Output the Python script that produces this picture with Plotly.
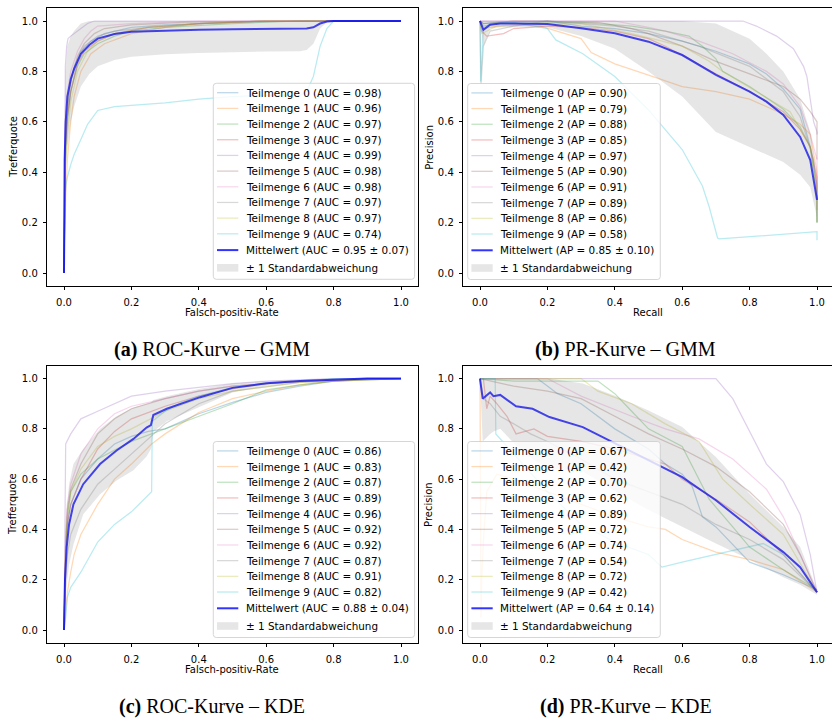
import plotly.graph_objects as go

# ---------------- data ----------------
roc_gmm_auc = [0.98, 0.96, 0.97, 0.97, 0.99, 0.98, 0.98, 0.97, 0.97, 0.74]
roc_gmm_x = [
    [0, 0.003, 0.008, 0.015, 0.03, 0.05, 0.08, 0.12, 0.2, 0.3, 0.5, 0.7, 1.0],
    [0, 0.005, 0.01, 0.02, 0.03, 0.05, 0.08, 0.12, 0.2, 0.3, 0.4, 0.6, 1.0],
    [0, 0.004, 0.01, 0.02, 0.04, 0.06, 0.1, 0.15, 0.2, 0.3, 0.5, 0.7, 1.0],
    [0, 0.004, 0.01, 0.02, 0.04, 0.06, 0.1, 0.15, 0.25, 0.4, 0.6, 1.0],
    [0, 0.002, 0.004, 0.008, 0.012, 0.02, 0.03, 0.05, 0.07, 0.09, 0.2, 1.0],
    [0, 0.004, 0.01, 0.02, 0.04, 0.06, 0.09, 0.12, 0.2, 0.35, 0.6, 1.0],
    [0, 0.003, 0.008, 0.02, 0.04, 0.06, 0.08, 0.1, 0.2, 0.4, 1.0],
    [0, 0.004, 0.01, 0.02, 0.04, 0.06, 0.1, 0.15, 0.25, 0.4, 0.6, 1.0],
    [0, 0.004, 0.01, 0.02, 0.04, 0.07, 0.1, 0.15, 0.25, 0.4, 0.6, 1.0],
    [0, 0.003, 0.006, 0.01, 0.02, 0.03, 0.05, 0.07, 0.1, 0.15, 0.2, 0.3, 0.4, 0.5, 0.6, 0.7, 0.72, 0.74, 0.76, 0.78, 0.8, 1.0],
]
roc_gmm_y = [
    [0, 0.45, 0.62, 0.72, 0.82, 0.88, 0.92, 0.95, 0.975, 0.985, 0.995, 1.0, 1.0],
    [0, 0.3, 0.45, 0.6, 0.7, 0.8, 0.87, 0.91, 0.95, 0.975, 0.99, 1.0, 1.0],
    [0, 0.45, 0.6, 0.72, 0.82, 0.87, 0.91, 0.94, 0.96, 0.975, 0.99, 1.0, 1.0],
    [0, 0.5, 0.62, 0.72, 0.83, 0.88, 0.92, 0.95, 0.975, 0.99, 1.0, 1.0],
    [0, 0.6, 0.82, 0.9, 0.93, 0.94, 0.95, 0.97, 0.99, 1.0, 1.0, 1.0],
    [0, 0.5, 0.65, 0.76, 0.86, 0.91, 0.95, 0.97, 0.985, 0.995, 1.0, 1.0],
    [0, 0.55, 0.7, 0.8, 0.88, 0.93, 0.96, 0.98, 0.99, 1.0, 1.0],
    [0, 0.5, 0.62, 0.72, 0.84, 0.9, 0.94, 0.96, 0.975, 0.99, 1.0, 1.0],
    [0, 0.4, 0.55, 0.68, 0.8, 0.88, 0.92, 0.95, 0.975, 0.99, 1.0, 1.0],
    [0, 0.3, 0.35, 0.38, 0.43, 0.47, 0.53, 0.59, 0.645, 0.66, 0.665, 0.675, 0.69, 0.7, 0.705, 0.705, 0.72, 0.78, 0.9, 0.97, 1.0, 1.0],
]
roc_gmm_mean_x = [0, 0.002, 0.005, 0.01, 0.02, 0.03, 0.05, 0.075, 0.1, 0.15, 0.2, 0.3, 0.4, 0.5, 0.6, 0.7, 0.72, 0.74, 0.76, 0.78, 0.8, 0.9, 1.0]
roc_gmm_mean = [0, 0.45, 0.6, 0.7, 0.77, 0.81, 0.87, 0.905, 0.93, 0.948, 0.957, 0.962, 0.965, 0.967, 0.968, 0.969, 0.97, 0.975, 0.99, 0.998, 1, 1, 1]
roc_gmm_upper = [0, 0.6, 0.8, 0.9, 0.94, 0.96, 0.99, 1, 1, 1, 1, 1, 1, 1, 1, 1, 1, 1, 1, 1, 1, 1, 1]
roc_gmm_lower = [0, 0.3, 0.4, 0.5, 0.6, 0.66, 0.74, 0.79, 0.82, 0.845, 0.858, 0.868, 0.873, 0.877, 0.879, 0.88, 0.885, 0.91, 0.97, 0.995, 1, 1, 1]

pr_gmm_ap = [0.90, 0.79, 0.88, 0.85, 0.97, 0.90, 0.91, 0.89, 0.86, 0.58]
pr_gmm_x = [
    [0, 0.01, 0.05, 0.2, 0.3, 0.4, 0.5, 0.6, 0.7, 0.8, 0.85, 0.9, 0.95, 0.98, 1.0, 1.0],
    [0, 0.01, 0.05, 0.1, 0.18, 0.25, 0.3, 0.33, 0.4, 0.5, 0.6, 0.7, 0.8, 0.9, 0.95, 0.98, 1.0, 1.0],
    [0, 0.01, 0.05, 0.3, 0.45, 0.55, 0.62, 0.66, 0.7, 0.72, 0.8, 0.9, 0.95, 0.98, 1.0, 1.0],
    [0, 0.005, 0.02, 0.07, 0.1, 0.2, 0.3, 0.4, 0.5, 0.55, 0.62, 0.7, 0.8, 0.9, 0.95, 0.98, 1.0, 1.0],
    [0, 0.5, 0.78, 0.82, 0.88, 0.93, 0.96, 0.97, 0.98, 0.99, 1.0, 1.0],
    [0, 0.01, 0.1, 0.35, 0.45, 0.5, 0.6, 0.7, 0.8, 0.9, 0.95, 0.98, 1.0, 1.0],
    [0, 0.4, 0.5, 0.55, 0.65, 0.75, 0.85, 0.9, 0.95, 0.98, 1.0, 1.0],
    [0, 0.003, 0.01, 0.03, 0.1, 0.2, 0.4, 0.5, 0.65, 0.8, 0.9, 0.95, 0.99, 1.0, 1.0],
    [0, 0.005, 0.05, 0.3, 0.45, 0.6, 0.68, 0.72, 0.82, 0.92, 0.98, 1.0, 1.0],
    [0, 0.002, 0.01, 0.03, 0.1, 0.2, 0.225, 0.305, 0.4, 0.5, 0.6, 0.66, 0.68, 0.705, 0.71, 0.85, 1.0, 1.0],
]
pr_gmm_y = [
    [1, 0.99, 0.995, 1.0, 0.98, 0.97, 0.95, 0.92, 0.88, 0.83, 0.79, 0.73, 0.65, 0.5, 0.35, 0.2],
    [1, 0.97, 0.98, 0.985, 0.98, 0.95, 0.93, 0.875, 0.83, 0.785, 0.74, 0.72, 0.69, 0.63, 0.59, 0.55, 0.4, 0.25],
    [1, 0.98, 0.99, 0.995, 0.98, 0.96, 0.94, 0.9, 0.85, 0.8, 0.74, 0.65, 0.58, 0.5, 0.3, 0.2],
    [1, 0.96, 0.94, 0.95, 0.97, 0.98, 0.975, 0.96, 0.93, 0.9, 0.85, 0.79, 0.72, 0.64, 0.57, 0.5, 0.38, 0.3],
    [1, 1, 1, 0.98, 0.94, 0.89, 0.82, 0.78, 0.69, 0.6, 0.56, 0.55],
    [1, 0.99, 1.0, 0.995, 0.97, 0.95, 0.9, 0.84, 0.79, 0.74, 0.69, 0.64, 0.6, 0.45],
    [1, 1, 0.975, 0.96, 0.92, 0.87, 0.8, 0.75, 0.66, 0.55, 0.45, 0.3],
    [1, 0.75, 0.9, 0.96, 0.98, 1.0, 0.98, 0.96, 0.9, 0.82, 0.72, 0.62, 0.45, 0.3, 0.2],
    [1, 0.95, 0.98, 0.99, 0.95, 0.9, 0.84, 0.8, 0.72, 0.64, 0.5, 0.3, 0.2],
    [1, 0.76, 0.97, 0.99, 0.995, 0.97, 0.925, 0.87, 0.78, 0.647, 0.49, 0.345, 0.263, 0.139, 0.135, 0.15, 0.164, 0.13],
]
pr_gmm_mean_x = [0, 0.01, 0.03, 0.06, 0.1, 0.2, 0.3, 0.4, 0.5, 0.6, 0.7, 0.8, 0.85, 0.9, 0.95, 0.98, 1.0]
pr_gmm_mean = [1, 0.965, 0.985, 0.99, 0.99, 0.988, 0.971, 0.951, 0.918, 0.865, 0.786, 0.72, 0.68, 0.627, 0.54, 0.448, 0.29]
pr_gmm_upper = [1, 1, 1, 1, 1, 1, 1, 1, 1, 1, 0.99, 0.93, 0.87, 0.8, 0.69, 0.56, 0.36]
pr_gmm_lower = [1, 0.9, 0.97, 0.975, 0.975, 0.975, 0.94, 0.89, 0.8, 0.7, 0.56, 0.5, 0.47, 0.44, 0.39, 0.34, 0.22]

roc_kde_auc = [0.86, 0.83, 0.87, 0.89, 0.96, 0.92, 0.92, 0.87, 0.91, 0.82]
roc_kde_x = [
    [0, 0.005, 0.01, 0.02, 0.05, 0.1, 0.15, 0.2, 0.25, 0.3, 0.4, 0.5, 0.6, 0.7, 0.8, 0.9, 1.0],
    [0, 0.005, 0.01, 0.02, 0.03, 0.05, 0.1, 0.15, 0.2, 0.26, 0.3, 0.4, 0.5, 0.6, 0.7, 0.8, 0.9, 1.0],
    [0, 0.005, 0.01, 0.02, 0.05, 0.1, 0.2, 0.3, 0.4, 0.5, 0.6, 0.7, 0.8, 1.0],
    [0, 0.005, 0.01, 0.02, 0.05, 0.1, 0.15, 0.2, 0.3, 0.4, 0.5, 0.6, 0.8, 1.0],
    [0, 0.003, 0.005, 0.02, 0.05, 0.1, 0.15, 0.2, 0.3, 0.4, 0.5, 0.6, 0.8, 1.0],
    [0, 0.005, 0.01, 0.02, 0.05, 0.1, 0.15, 0.2, 0.3, 0.4, 0.5, 0.7, 1.0],
    [0, 0.005, 0.01, 0.02, 0.05, 0.1, 0.15, 0.2, 0.3, 0.4, 0.5, 0.7, 1.0],
    [0, 0.005, 0.01, 0.02, 0.05, 0.1, 0.15, 0.2, 0.25, 0.3, 0.4, 0.5, 0.7, 1.0],
    [0, 0.005, 0.01, 0.02, 0.05, 0.1, 0.15, 0.2, 0.3, 0.4, 0.5, 0.7, 1.0],
    [0, 0.005, 0.01, 0.02, 0.05, 0.1, 0.15, 0.2, 0.26, 0.262, 0.3, 0.34, 0.4, 0.5, 0.6, 0.7, 0.8, 1.0],
]
roc_kde_y = [
    [0, 0.3, 0.42, 0.5, 0.6, 0.68, 0.74, 0.77, 0.79, 0.8, 0.86, 0.905, 0.945, 0.97, 0.99, 0.998, 1.0],
    [0, 0.08, 0.15, 0.23, 0.3, 0.38, 0.5, 0.6, 0.66, 0.74, 0.78, 0.865, 0.92, 0.95, 0.975, 0.99, 1.0, 1.0],
    [0, 0.3, 0.45, 0.55, 0.62, 0.68, 0.75, 0.8, 0.85, 0.9, 0.955, 0.975, 0.99, 1.0],
    [0, 0.3, 0.42, 0.5, 0.6, 0.72, 0.79, 0.84, 0.89, 0.93, 0.96, 0.98, 0.995, 1.0],
    [0, 0.5, 0.74, 0.78, 0.84, 0.87, 0.9, 0.93, 0.95, 0.965, 0.98, 0.99, 1.0, 1.0],
    [0, 0.35, 0.48, 0.56, 0.66, 0.78, 0.84, 0.88, 0.92, 0.95, 0.97, 0.99, 1.0],
    [0, 0.4, 0.5, 0.58, 0.7, 0.8, 0.86, 0.89, 0.92, 0.95, 0.97, 0.99, 1.0],
    [0, 0.2, 0.3, 0.38, 0.48, 0.58, 0.64, 0.7, 0.76, 0.82, 0.9, 0.95, 0.985, 1.0],
    [0, 0.35, 0.45, 0.55, 0.64, 0.73, 0.77, 0.8, 0.87, 0.92, 0.95, 0.985, 1.0],
    [0, 0.05, 0.13, 0.17, 0.23, 0.35, 0.42, 0.47, 0.55, 0.83, 0.87, 0.9, 0.93, 0.965, 0.98, 0.99, 1.0, 1.0],
]
roc_kde_mean_x = [0, 0.003, 0.008, 0.015, 0.028, 0.057, 0.107, 0.156, 0.206, 0.245, 0.258, 0.265, 0.305, 0.404, 0.5, 0.6, 0.7, 0.8, 0.9, 1.0]
roc_kde_mean = [0, 0.2, 0.33, 0.42, 0.5, 0.58, 0.66, 0.714, 0.76, 0.805, 0.815, 0.855, 0.88, 0.926, 0.963, 0.981, 0.99, 0.996, 1, 1]
roc_kde_upper = [0, 0.3, 0.48, 0.58, 0.66, 0.72, 0.8, 0.85, 0.885, 0.9, 0.905, 0.915, 0.93, 0.96, 0.98, 0.99, 0.995, 1, 1, 1]
roc_kde_lower = [0, 0.1, 0.18, 0.26, 0.34, 0.46, 0.54, 0.595, 0.635, 0.69, 0.72, 0.79, 0.83, 0.89, 0.945, 0.97, 0.985, 0.993, 1, 1]

pr_kde_ap = [0.67, 0.42, 0.70, 0.62, 0.89, 0.72, 0.74, 0.54, 0.72, 0.42]
pr_kde_x = [
    [0, 0.17, 0.2, 0.23, 0.3, 0.4, 0.5, 0.55, 0.6, 0.63, 0.66, 0.7, 0.8, 0.9, 1.0],
    [0, 0.003, 0.005, 0.01, 0.02, 0.05, 0.1, 0.2, 0.3, 0.4, 0.5, 0.55, 0.6, 0.7, 0.8, 0.9, 1.0],
    [0, 0.1, 0.35, 0.4, 0.45, 0.5, 0.6, 0.65, 0.68, 0.75, 0.8, 0.9, 1.0],
    [0, 0.01, 0.02, 0.03, 0.05, 0.08, 0.107, 0.16, 0.2, 0.3, 0.4, 0.5, 0.55, 0.6, 0.7, 0.8, 0.9, 1.0],
    [0, 0.7, 0.75, 0.8, 0.85, 0.9, 0.95, 0.98, 1.0],
    [0, 0.1, 0.2, 0.3, 0.4, 0.5, 0.6, 0.7, 0.8, 0.9, 0.95, 1.0],
    [0, 0.2, 0.3, 0.45, 0.55, 0.65, 0.75, 0.85, 0.9, 0.95, 1.0],
    [0, 0.01, 0.03, 0.06, 0.1, 0.15, 0.2, 0.3, 0.4, 0.5, 0.6, 0.7, 0.8, 0.9, 1.0],
    [0, 0.3, 0.35, 0.45, 0.55, 0.65, 0.72, 0.8, 0.9, 1.0],
    [0, 0.045, 0.047, 0.1, 0.2, 0.3, 0.4, 0.5, 0.54, 0.6, 0.7, 0.84, 0.9, 1.0],
]
pr_kde_y = [
    [1, 1, 0.97, 0.94, 0.9, 0.8, 0.72, 0.66, 0.62, 0.57, 0.45, 0.41, 0.27, 0.22, 0.16],
    [1, 0.05, 0.2, 0.35, 0.55, 0.62, 0.6, 0.55, 0.5, 0.45, 0.41, 0.4, 0.36, 0.31, 0.28, 0.24, 0.15],
    [1, 0.99, 0.99, 0.94, 0.87, 0.8, 0.73, 0.6, 0.52, 0.41, 0.33, 0.24, 0.16],
    [1, 1, 0.88, 0.93, 0.9, 0.85, 0.78, 0.8, 0.77, 0.75, 0.72, 0.68, 0.66, 0.6, 0.52, 0.43, 0.3, 0.15],
    [1, 1, 0.92, 0.79, 0.66, 0.59, 0.46, 0.3, 0.15],
    [1, 0.97, 0.95, 0.92, 0.85, 0.78, 0.72, 0.65, 0.55, 0.42, 0.3, 0.15],
    [1, 1, 0.93, 0.85, 0.8, 0.76, 0.68, 0.56, 0.45, 0.3, 0.15],
    [1, 0.92, 0.9, 0.85, 0.82, 0.78, 0.75, 0.68, 0.6, 0.55, 0.5, 0.42, 0.36, 0.28, 0.15],
    [1, 1, 0.95, 0.9, 0.82, 0.75, 0.6, 0.5, 0.38, 0.15],
    [1, 1, 0.78, 0.7, 0.55, 0.42, 0.35, 0.3, 0.25, 0.27, 0.3, 0.344, 0.3, 0.15],
]
pr_kde_mean_x = [0, 0.008, 0.03, 0.04, 0.06, 0.107, 0.156, 0.206, 0.305, 0.404, 0.5, 0.6, 0.7, 0.8, 0.9, 0.95, 1.0]
pr_kde_mean = [1, 0.92, 0.945, 0.93, 0.935, 0.89, 0.88, 0.847, 0.807, 0.74, 0.675, 0.608, 0.516, 0.41, 0.31, 0.25, 0.15]
pr_kde_upper = [1, 1, 1, 1, 1, 1, 1, 1, 0.98, 0.93, 0.873, 0.807, 0.688, 0.542, 0.41, 0.33, 0.16]
pr_kde_lower = [1, 0.75, 0.78, 0.79, 0.8, 0.735, 0.68, 0.64, 0.63, 0.55, 0.477, 0.41, 0.344, 0.28, 0.21, 0.18, 0.14]

mean_labels = ["Mittelwert (AUC = 0.95 ± 0.07)", "Mittelwert (AP = 0.85 ± 0.10)",
               "Mittelwert (AUC = 0.88 ± 0.04)", "Mittelwert (AP = 0.64 ± 0.14)"]
std_label = "± 1 Standardabweichung"
captions = [("(a)", "ROC-Kurve – GMM"), ("(b)", "PR-Kurve – GMM"),
            ("(c)", "ROC-Kurve – KDE"), ("(d)", "PR-Kurve – KDE")]
x_titles = ["Falsch-positiv-Rate", "Recall", "Falsch-positiv-Rate", "Recall"]
y_titles = ["Trefferquote", "Precision", "Trefferquote", "Precision"]
tick_vals = [0, 0.2, 0.4, 0.6, 0.8, 1.0]
tick_text = ["0.0", "0.2", "0.4", "0.6", "0.8", "1.0"]

# ---------------- styling / layout ----------------
W, H = 832, 718
COLORS = ['#1f77b4', '#ff7f0e', '#2ca02c', '#d62728', '#9467bd',
          '#8c564b', '#e377c2', '#7f7f7f', '#bcbd22', '#17becf']
FONT = "DejaVu Sans"
SUB_W = 1.25


def rgba(hexc, a):
    h = hexc.lstrip('#')
    return f"rgba({int(h[0:2], 16)},{int(h[2:4], 16)},{int(h[4:6], 16)},{a})"


def px(x):
    return x / W


def py(y):
    return 1 - y / H


panels = [
    dict(xs=roc_gmm_x, ys=roc_gmm_y, vals=roc_gmm_auc, kind="AUC",
         mx=roc_gmm_mean_x, m=roc_gmm_mean, up=roc_gmm_upper, lo=roc_gmm_lower,
         box=(47.15, 417.85, 8.4, 285.6), leg=(213.3, 414.6, 83.3)),
    dict(xs=pr_gmm_x, ys=pr_gmm_y, vals=pr_gmm_ap, kind="AP",
         mx=pr_gmm_mean_x, m=pr_gmm_mean, up=pr_gmm_upper, lo=pr_gmm_lower,
         box=(463.15, 832.0, 8.4, 285.6), leg=(467.7, 660.3, 83.5)),
    dict(xs=roc_kde_x, ys=roc_kde_y, vals=roc_kde_auc, kind="AUC",
         mx=roc_kde_mean_x, m=roc_kde_mean, up=roc_kde_upper, lo=roc_kde_lower,
         box=(47.15, 417.85, 366.0, 642.6), leg=(213.3, 414.6, 441.5)),
    dict(xs=pr_kde_x, ys=pr_kde_y, vals=pr_kde_ap, kind="AP",
         mx=pr_kde_mean_x, m=pr_kde_mean, up=pr_kde_upper, lo=pr_kde_lower,
         box=(463.15, 832.0, 366.0, 642.6), leg=(467.7, 660.3, 441.5)),
]

fig = go.Figure()
shapes = []
annotations = []
layout_axes = {}
LEG_FONT = dict(family=FONT, size=10.4, color="black")

for k, p in enumerate(panels):
    sfx = "" if k == 0 else str(k + 1)
    xa, ya = "x" + sfx, "y" + sfx
    x0, x1, y0, y1 = p["box"]
    xr = [-0.05, -0.05 + (x1 - x0) / 337.0]
    axis_common = dict(ticks="outside", ticklen=3.5, tickwidth=0.8, tickcolor="black",
                       showline=True, linecolor="black", linewidth=0.8, mirror=True,
                       showgrid=False, zeroline=False, tickvals=tick_vals, ticktext=tick_text,
                       tickfont=dict(family=FONT, size=10, color="black"))
    layout_axes["xaxis" + sfx] = dict(axis_common, domain=[px(x0), px(x1)], range=xr,
                                      anchor=ya, ticklabelstandoff=4)
    layout_axes["yaxis" + sfx] = dict(axis_common, domain=[py(y1), py(y0)], range=[-0.05, 1.05],
                                      anchor=xa, ticklabelstandoff=3)

    for i in range(10):
        fig.add_trace(go.Scatter(x=p["xs"][i], y=p["ys"][i], mode="lines",
                                 line=dict(color=rgba(COLORS[i], 0.3), width=SUB_W),
                                 xaxis=xa, yaxis=ya, showlegend=False, hoverinfo="skip"))
    fig.add_trace(go.Scatter(x=p["mx"], y=p["m"], mode="lines",
                             line=dict(color="rgba(0,0,255,0.8)", width=2.0),
                             xaxis=xa, yaxis=ya, showlegend=False, hoverinfo="skip"))
    fig.add_trace(go.Scatter(x=p["mx"], y=p["up"], mode="lines", line=dict(width=0),
                             xaxis=xa, yaxis=ya, showlegend=False, hoverinfo="skip"))
    fig.add_trace(go.Scatter(x=p["mx"], y=p["lo"], mode="lines", line=dict(width=0),
                             fill="tonexty", fillcolor="rgba(128,128,128,0.2)",
                             xaxis=xa, yaxis=ya, showlegend=False, hoverinfo="skip"))

    # ---- manual legend (matplotlib style) ----
    lx0, lx1, ly0 = p["leg"]
    ly1 = ly0 + 196
    r = 3
    path = (f"M {px(lx0 + r)},{py(ly0)} L {px(lx1 - r)},{py(ly0)} "
            f"Q {px(lx1)},{py(ly0)} {px(lx1)},{py(ly0 + r)} "
            f"L {px(lx1)},{py(ly1 - r)} Q {px(lx1)},{py(ly1)} {px(lx1 - r)},{py(ly1)} "
            f"L {px(lx0 + r)},{py(ly1)} Q {px(lx0)},{py(ly1)} {px(lx0)},{py(ly1 - r)} "
            f"L {px(lx0)},{py(ly0 + r)} Q {px(lx0)},{py(ly0)} {px(lx0 + r)},{py(ly0)} Z")
    shapes.append(dict(type="path", xref="paper", yref="paper", path=path,
                       fillcolor="rgba(255,255,255,0.8)",
                       line=dict(color="rgba(204,204,204,1)", width=0.8), layer="above"))
    sx0, sx1, tx = lx0 + 3.7, lx0 + 25.0, lx0 + 31.5
    labels = [f"Teilmenge {i} ({p['kind']} = {p['vals'][i]:.2f})" for i in range(10)]
    rows = [ly0 + 9.4 + 15.68 * i for i in range(10)]
    for i in range(10):
        shapes.append(dict(type="line", xref="paper", yref="paper",
                           x0=px(sx0), x1=px(sx1), y0=py(rows[i]), y1=py(rows[i]),
                           line=dict(color=rgba(COLORS[i], 0.3), width=SUB_W), layer="above"))
        annotations.append(dict(xref="paper", yref="paper", x=px(tx), y=py(rows[i]),
                                text=labels[i], showarrow=False, xanchor="left", yanchor="middle",
                                borderpad=0, font=LEG_FONT))
    ym = ly0 + 166.8
    shapes.append(dict(type="line", xref="paper", yref="paper",
                       x0=px(sx0), x1=px(sx1), y0=py(ym), y1=py(ym),
                       line=dict(color="rgba(0,0,255,0.8)", width=2.0), layer="above"))
    annotations.append(dict(xref="paper", yref="paper", x=px(tx), y=py(ym),
                            text=mean_labels[k], showarrow=False, xanchor="left", yanchor="middle",
                            borderpad=0, font=LEG_FONT))
    ys = ly0 + 184.5
    shapes.append(dict(type="rect", xref="paper", yref="paper",
                       x0=px(sx0), x1=px(sx1), y0=py(ys + 3.8), y1=py(ys - 3.8),
                       fillcolor="rgba(128,128,128,0.2)", line=dict(width=0), layer="above"))
    annotations.append(dict(xref="paper", yref="paper", x=px(tx), y=py(ys),
                            text=std_label, showarrow=False, xanchor="left", yanchor="middle",
                            borderpad=0, font=LEG_FONT))

    # ---- axis titles ----
    cx = (x0 + min(x1, x0 + 370.7)) / 2
    cy = (y0 + y1) / 2
    annotations.append(dict(xref="paper", yref="paper", x=px(cx), y=py(y1 + 26.7),
                            text=x_titles[k], showarrow=False, xanchor="center", yanchor="middle",
                            font=dict(family=FONT, size=10, color="black")))
    annotations.append(dict(xref="paper", yref="paper", x=px(x0 - 34.5), y=py(cy),
                            text=y_titles[k], showarrow=False, textangle=-90,
                            xanchor="center", yanchor="middle",
                            font=dict(family=FONT, size=10, color="black")))
    # ---- caption ----
    lab, cap = captions[k]
    annotations.append(dict(xref="paper", yref="paper", x=px(cx - 20 if k % 2 == 0 else cx - 22),
                            y=py(y1 + 63.5), text=f"<b>{lab}</b> {cap}", showarrow=False,
                            xanchor="center", yanchor="middle",
                            font=dict(family="Liberation Serif", size=20, color="black")))

fig.update_layout(width=W, height=H, margin=dict(l=0, r=0, t=0, b=0),
                  paper_bgcolor="white", plot_bgcolor="white", showlegend=False,
                  shapes=shapes, annotations=annotations, **layout_axes)
fig.write_html("out.html")
